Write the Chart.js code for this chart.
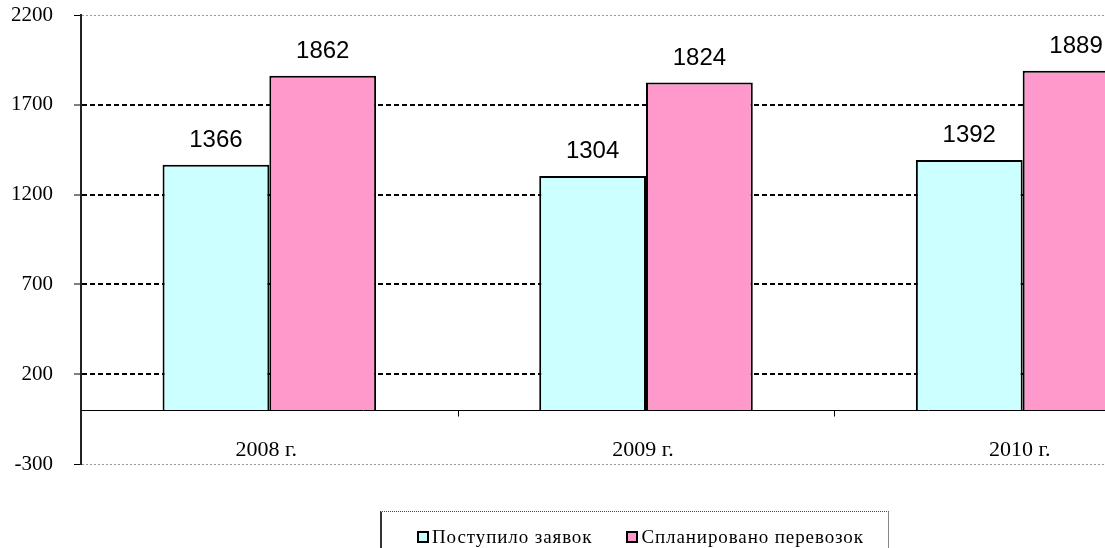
<!DOCTYPE html>
<html>
<head>
<meta charset="utf-8">
<script src="https://cdn.jsdelivr.net/npm/chart.js@4.4.1/dist/chart.umd.min.js"></script>
<style>
  html, body { margin: 0; padding: 0; background: #fff; overflow: hidden; width: 1105px; height: 548px; }
  #wrap { position: relative; width: 1105px; height: 548px; overflow: hidden; }
  #chart { position: absolute; left: 0; top: 0; }
  #legend {
    position: absolute; left: 380px; top: 511px; width: 509px; height: 60px;
    border-top: 1px dotted #444; border-left: 2px solid #333; border-right: 1px solid #888;
    font-family: "Liberation Serif", serif; font-size: 19px; letter-spacing: 0.9px; color: #000;
    box-sizing: border-box; padding: 14px 0 0 35px; white-space: nowrap;
  }
  #legend .item { display: inline-flex; align-items: center; margin-right: 34px; line-height: 22px; }
  #legend .sw { width: 8px; height: 8px; border: 2px solid #000; margin-right: 3px; }
</style>
</head>
<body>
<div id="wrap">
  <canvas id="chart" width="1230" height="548"></canvas>
  <div id="legend"></div>
</div>
<script>
const years = ["2008 г.", "2009 г.", "2010 г."];
const applications = [1366, 1304, 1392];
const planned = [1862, 1824, 1889];
const seriesNames = ["Поступило заявок", "Спланировано перевозок"];
const seriesColors = ["#ccffff", "#ff99cc"];
const yMin = -300;
const yMax = 2200;
const yStep = 500;

const serif = "'Liberation Serif', 'Times New Roman', serif";
const sans = "'Liberation Sans', Arial, sans-serif";

// zero line, category labels, tick marks on the zero line, value labels
const extras = {
  id: "extras",
  afterDatasetsDraw(chart) {
    const { ctx, chartArea, scales } = chart;
    const x = scales.x;
    const y = scales.y;
    const y0 = Math.round(y.getPixelForValue(0)) + 0.5;
    ctx.save();
    ctx.strokeStyle = "#000";
    ctx.lineWidth = 1;
    ctx.beginPath();
    ctx.moveTo(chartArea.left, y0);
    ctx.lineTo(chartArea.right, y0);
    const n = chart.data.labels.length;
    for (let i = 0; i < n - 1; i++) {
      const bx = Math.round((x.getPixelForValue(i) + x.getPixelForValue(i + 1)) / 2) + 0.5;
      ctx.moveTo(bx, y0);
      ctx.lineTo(bx, y0 + 6);
    }
    ctx.stroke();

    ctx.fillStyle = "#000";
    ctx.font = "22px " + serif;
    ctx.textAlign = "center";
    ctx.textBaseline = "alphabetic";
    chart.data.labels.forEach((lab, i) => {
      ctx.fillText(lab, x.getPixelForValue(i) - 3, y0 + 45);
    });

    ctx.font = "24px " + sans;
    chart.data.datasets.forEach((ds, di) => {
      chart.getDatasetMeta(di).data.forEach((bar, i) => {
        ctx.fillText(String(ds.data[i]), bar.x, bar.y - 18);
      });
    });
    ctx.restore();
  }
};

const isEdge = (v) => v === yMin || v === yMax;

new Chart(document.getElementById("chart"), {
  type: "bar",
  data: {
    labels: years,
    datasets: [
      { label: seriesNames[0], data: applications, backgroundColor: seriesColors[0] },
      { label: seriesNames[1], data: planned, backgroundColor: seriesColors[1] }
    ]
  },
  options: {
    responsive: false,
    animation: false,
    layout: { padding: { left: 0, top: 15, right: 19, bottom: 84 } },
    datasets: {
      bar: {
        borderColor: "#000",
        borderWidth: 2,
        barPercentage: 1,
        categoryPercentage: 0.567
      }
    },
    plugins: { legend: { display: false }, tooltip: { enabled: false } },
    scales: {
      x: { type: "category", display: false, offset: true },
      y: {
        min: yMin,
        max: yMax,
        afterFit: (s) => {
          s.width = 81;
          s.paddingTop = 0;
          s.paddingBottom = 0;
        },
        ticks: {
          stepSize: yStep,
          padding: 21,
          color: "#000",
          font: { family: serif, size: 21 },
          callback: (v) => String(v)
        },
        grid: {
          color: (c) => (isEdge(c.tick.value) ? "#999" : "#000"),
          lineWidth: (c) => (isEdge(c.tick.value) ? 1 : 2),
          tickColor: "#000",
          tickLength: 7,
          tickWidth: 1
        },
        border: {
          display: true,
          color: "#222",
          width: 2,
          dash: (c) => (c.tick && isEdge(c.tick.value) ? [2, 2] : [5, 3])
        }
      }
    }
  },
  plugins: [extras]
});

const legend = document.getElementById("legend");
seriesNames.forEach((name, i) => {
  const item = document.createElement("span");
  item.className = "item";
  const sw = document.createElement("span");
  sw.className = "sw";
  sw.style.background = seriesColors[i];
  item.appendChild(sw);
  item.appendChild(document.createTextNode(name));
  legend.appendChild(item);
});
</script>
</body>
</html>
